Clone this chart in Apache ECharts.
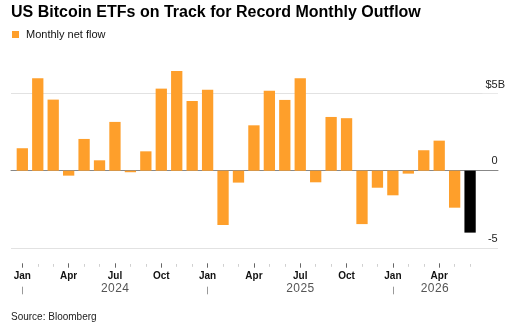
<!DOCTYPE html>
<html>
<head>
<meta charset="utf-8">
<script src="https://cdn.jsdelivr.net/npm/echarts@6/dist/echarts.min.js"></script>
<style>
  html, body { margin: 0; padding: 0; background: #fff; }
  #chart { width: 522px; height: 335px; }
</style>
</head>
<body>
<div id="chart"></div>
<script>
  // months, Jan 2024 .. Jun 2026
  const months = [
    '2024-01', '2024-02', '2024-03', '2024-04', '2024-05', '2024-06',
    '2024-07', '2024-08', '2024-09', '2024-10', '2024-11', '2024-12',
    '2025-01', '2025-02', '2025-03', '2025-04', '2025-05', '2025-06',
    '2025-07', '2025-08', '2025-09', '2025-10', '2025-11', '2025-12',
    '2026-01', '2026-02', '2026-03', '2026-04', '2026-05', '2026-06'
  ];
  const monthNames = ['Jan', 'Feb', 'Mar', 'Apr', 'May', 'Jun', 'Jul', 'Aug', 'Sep', 'Oct', 'Nov', 'Dec'];
  const quarterStarts = ['Jan', 'Apr', 'Jul', 'Oct'];
  // $ billions
  const netFlow = [
    1.45, 5.97, 4.59, -0.32, 2.05, 0.67, 3.15, -0.1, 1.25, 5.3, 6.44, 4.5,
    5.22, -3.51, -0.77, 2.93, 5.17, 4.57, 5.97, -0.75, 3.47, 3.39, -3.45, -1.1,
    -1.59, -0.19, 1.32, 1.94, -2.39, -4.0
  ];
  const yearLabels = { '2024-07': '2024', '2025-07': '2025', '2026-04': '2026' };
  const yTicks = { '5': '$5B', '0': '0', '-5': '-5' };

  const orange = '#fe9f2b';
  const font = 'Liberation Sans, Arial, sans-serif';

  const monthOf = (m) => monthNames[parseInt(m.slice(5), 10) - 1];
  const isQuarter = (i) => quarterStarts.includes(monthOf(months[i]));
  const isJan = (i) => monthOf(months[i]) === 'Jan';

  const chart = echarts.init(document.getElementById('chart'));

  const gridTop = 62.3;
  const gridBottom = 86.9;

  chart.setOption({
    animation: false,
    textStyle: { fontFamily: font },
    title: [
      {
        text: 'US Bitcoin ETFs on Track for Record Monthly Outflow',
        left: 11, top: 5, padding: 0,
        textStyle: { fontSize: 16, fontWeight: 'bold', color: '#000', fontFamily: font }
      },
      {
        text: 'Source: Bloomberg',
        left: 11, top: 312, padding: 0,
        textStyle: { fontSize: 10, fontWeight: 'normal', color: '#222', fontFamily: font }
      }
    ],
    legend: {
      left: 12, top: 29, padding: 0,
      icon: 'rect', itemWidth: 7, itemHeight: 7,
      textStyle: { fontSize: 11, color: '#111', padding: [0, 0, 0, 2] },
      data: ['Monthly net flow']
    },
    grid: [
      // bars
      { left: 14.6, right: 44.2, top: gridTop, bottom: gridBottom },
      // gridlines, a bit wider
      { left: 11, right: 24, top: gridTop, bottom: gridBottom }
    ],
    xAxis: [
      {
        // minor ticks, each month
        type: 'category', gridIndex: 0, data: months, position: 'bottom', offset: 15.9,
        axisLine: { show: false, onZero: false },
        axisTick: { show: true, alignWithLabel: true, interval: 0, length: 2.8, lineStyle: { color: '#d0d0d0' } },
        axisLabel: { show: false }
      },
      {
        // quarter ticks + month labels
        type: 'category', gridIndex: 0, data: months, position: 'bottom', offset: 15.2,
        axisLine: { show: false, onZero: false },
        axisTick: { show: true, alignWithLabel: true, interval: (i) => isQuarter(i), length: 4.4, lineStyle: { color: '#666' } },
        axisLabel: {
          interval: (i) => isQuarter(i), margin: 8,
          fontSize: 10, fontWeight: 'bold', color: '#111',
          formatter: (v) => monthOf(v)
        }
      },
      {
        // year separators + year labels
        type: 'category', gridIndex: 0, data: months, position: 'bottom', offset: 38.6,
        axisLine: { show: false, onZero: false },
        axisTick: { show: true, alignWithLabel: true, interval: (i) => isJan(i), length: 7.6, lineStyle: { color: '#999' } },
        axisLabel: {
          interval: (i) => !!yearLabels[months[i]], margin: -4,
          formatter: (v) => {
            const y = yearLabels[v];
            if (!y) return '';
            const digits = y.split('').map((d) => '{d|' + d + '}').join('');
            return v === '2026-04' ? digits + '{s|}' : digits;
          },
          rich: {
            d: { fontSize: 12, color: '#555', padding: [0, 0.2, 0, 0.2] },
            s: { width: 9 }
          }
        }
      },
      {
        // carries the zero line across the wider grid
        type: 'value', gridIndex: 1, min: 0, max: 1,
        axisLine: { show: true, onZero: true, lineStyle: { color: '#888', width: 1 } },
        axisTick: { show: false }, axisLabel: { show: false }, splitLine: { show: false }
      }
    ],
    yAxis: [
      {
        type: 'value', gridIndex: 0, min: -5, max: 7, interval: 5,
        axisLine: { show: false }, axisTick: { show: false },
        axisLabel: { show: false }, splitLine: { show: false }
      },
      {
        type: 'value', gridIndex: 1, min: -5, max: 7, interval: 5, position: 'right',
        axisLine: { show: false }, axisTick: { show: false },
        splitLine: { show: true, showMaxLine: false, lineStyle: { color: '#e2e2e2', width: 1 } },
        axisLabel: {
          inside: true, margin: -7, verticalAlign: 'bottom',
          formatter: (v) => {
            const t = yTicks[String(v)];
            if (t === undefined) return '';
            return v === 5 ? '{c|' + t + '}' : '{n|' + t + '}{h|B}';
          },
          rich: {
            c: { fontSize: 11, color: '#222', backgroundColor: '#fff', padding: [1, 0, 3, 3] },
            n: { fontSize: 11, color: '#222', padding: [1, 0, 4, 0] },
            h: { fontSize: 11, color: 'rgba(0,0,0,0)', padding: [1, 0, 4, 0] }
          }
        }
      }
    ],
    series: [
      {
        name: 'Monthly net flow',
        type: 'bar',
        xAxisIndex: 0, yAxisIndex: 0,
        barWidth: 11.3,
        itemStyle: { color: orange },
        data: netFlow.map((v, i) => (i === netFlow.length - 1 ? { value: v, itemStyle: { color: '#000' } } : v))
      }
    ]
  });
</script>
</body>
</html>
